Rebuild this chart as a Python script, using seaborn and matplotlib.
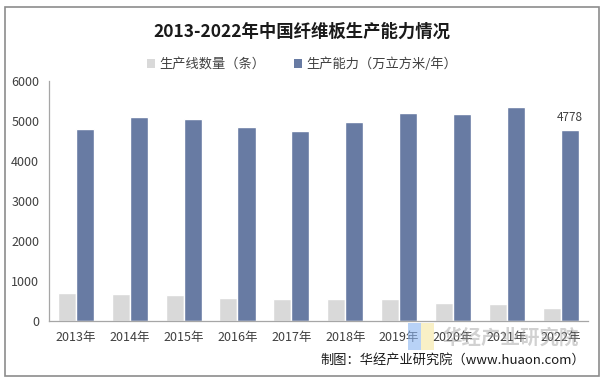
import numpy as np
import pandas as pd
import matplotlib
matplotlib.use("Agg")
import matplotlib.pyplot as plt
from matplotlib.patches import Rectangle, Patch
import seaborn as sns

years = ["2013年", "2014年", "2015年", "2016年", "2017年",
         "2018年", "2019年", "2020年", "2021年", "2022年"]
lines = [705, 680, 655, 580, 555, 550, 555, 452, 428, 327]
capacity = [4800, 5090, 5060, 4860, 4750, 4970, 5210, 5170, 5360, 4778]
series = ["生产线数量（条）", "生产能力（万立方米/年）"]
colors = ["#d9d9d9", "#687ba3"]

df = pd.DataFrame({
    "year": years * 2,
    "value": lines + capacity,
    "series": [series[0]] * len(years) + [series[1]] * len(years),
})

sns.set_theme(style="white")
plt.rcParams["font.family"] = ["Noto Sans CJK SC", "DejaVu Sans"]

fig = plt.figure(figsize=(6.04, 3.82), dpi=100)
ax = fig.add_axes([0.081, 0.16, 0.892, 0.628])

sns.barplot(data=df, x="year", y="value", hue="series", palette=colors,
            width=0.67, gap=0, saturation=1, ax=ax, legend=False)

ax.set_ylim(0, 6000)
ax.set_yticks(range(0, 6001, 1000))
ax.set_xlim(-0.5, len(years) - 0.5)
ax.set_xlabel("")
ax.set_ylabel("")
for s in ["top", "right"]:
    ax.spines[s].set_visible(False)
for s in ["left", "bottom"]:
    ax.spines[s].set_color("#a6a6a6")
    ax.spines[s].set_linewidth(0.9)

ax.tick_params(axis="y", which="both", direction="out", length=4,
               color="#a6a6a6", labelsize=9, labelcolor="#404040", pad=3)
ax.set_xticks(np.arange(len(years)))
ax.set_xticklabels(years)
ax.tick_params(axis="x", which="major", length=0, labelsize=9,
               labelcolor="#404040", pad=7)
ax.set_xticks(np.arange(-0.5, len(years)), minor=True)
ax.tick_params(axis="x", which="minor", direction="out", length=5,
               color="#a6a6a6")

# data label on last bar
ax.text(len(years) - 1 + 0.168, capacity[-1] + 150, str(capacity[-1]),
        ha="center", va="bottom", fontsize=8.5, color="#404040")

fig.text(0.5, 0.918, "2013-2022年中国纤维板生产能力情况", ha="center",
         va="center", fontsize=12.5, fontweight="bold", color="#1a1a1a")

handles = [Patch(facecolor=c, edgecolor="none") for c in colors]
fig.legend(handles, series, loc="center", bbox_to_anchor=(0.5, 0.832),
           ncol=2, frameon=False, fontsize=9.5, handlelength=0.6,
           handleheight=0.6, handletextpad=0.3, columnspacing=2.2,
           labelcolor="#404040")

# watermark
fig.text(0.845, 0.115, "华经产业研究院", ha="center", va="center",
         fontsize=14, fontweight="bold", color="#9a9a9a", alpha=0.45)
fig.patches.append(Rectangle((0.675, 0.085), 0.022, 0.07,
                             transform=fig.transFigure, facecolor="#8ab4f0",
                             alpha=0.6, edgecolor="none"))
fig.patches.append(Rectangle((0.697, 0.085), 0.022, 0.07,
                             transform=fig.transFigure, facecolor="#f5e6a0",
                             alpha=0.6, edgecolor="none"))

fig.text(0.968, 0.058, "制图：华经产业研究院（www.huaon.com）", ha="right",
         va="center", fontsize=9.5, color="#1a1a1a")

fig.patches.append(Rectangle((0.009, 0.015), 0.982, 0.967,
                             transform=fig.transFigure, fill=False,
                             edgecolor="#8c8c8c", linewidth=1.2))

fig.savefig("out.png", dpi=100)
